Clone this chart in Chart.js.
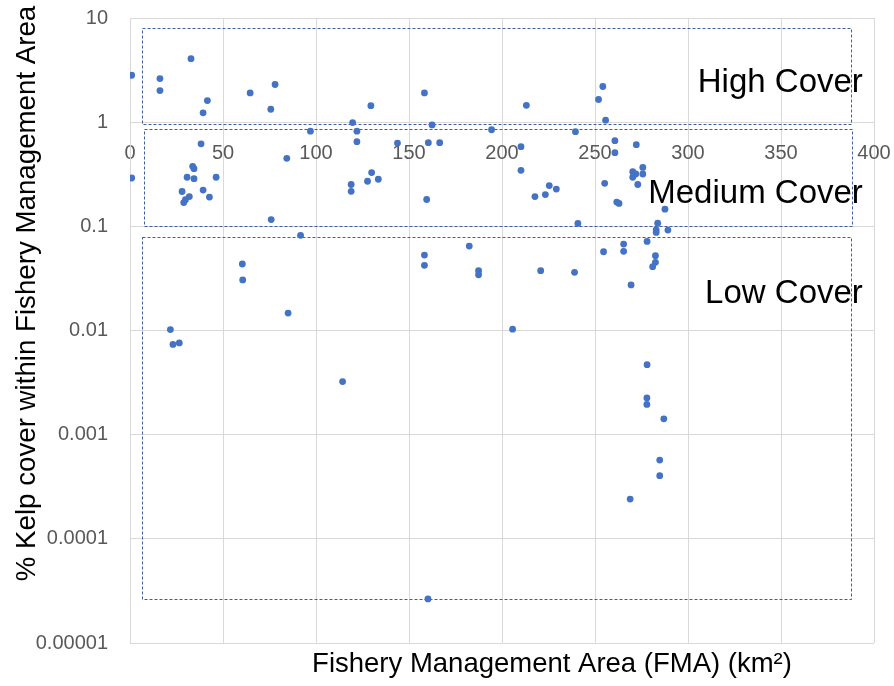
<!DOCTYPE html>
<html><head><meta charset="utf-8">
<script src="https://cdn.jsdelivr.net/npm/chart.js@4/dist/chart.umd.min.js"></script>
<style>html,body{margin:0;padding:0;background:#fff}</style>
</head><body>
<canvas id="c" width="894" height="686" style="display:block;width:894px;height:686px"></canvas>
<script>
// Fishery Management Area (km²) for each FMA
const fmaAreaKm2 = [
  0.9, 16.1, 16.1, 32.8, 41.6, 39.3, 64.6, 78.0, 75.7, 129.5,
  119.7, 122.0, 97.0, 122.0, 143.8, 38.2, 84.3, 0.9, 33.7, 34.4,
  30.7, 34.4, 46.3, 28.0, 39.3, 42.7, 31.9, 29.8, 28.9, 75.9,
  91.7, 60.4, 60.6, 118.9, 118.9, 129.9, 127.7, 133.5, 85.0, 21.7,
  23.1, 26.5, 114.3, 160.2, 187.4, 187.4, 205.7, 220.8, 158.3, 162.4,
  160.4, 166.5, 159.5, 158.3, 158.3, 182.4, 194.4, 213.1, 210.2, 210.2,
  217.7, 223.3, 225.4, 229.2, 239.0, 239.5, 240.8, 251.9, 254.2, 255.7,
  260.7, 260.7, 255.2, 261.7, 262.9, 272.2, 270.3, 271.9, 270.3, 275.7,
  275.7, 273.0, 287.6, 283.7, 282.9, 282.9, 289.2, 278.0, 254.6, 265.4,
  265.4, 282.5, 282.5, 281.0, 269.4, 278.0, 277.9, 277.9, 287.0, 284.8,
  284.8, 268.9
];
// % kelp cover within each FMA
const kelpCoverPct = [
  2.82, 2.62, 2.01, 4.07, 1.61, 1.23, 1.91, 2.30, 1.33, 1.44,
  0.99, 0.82, 0.82, 0.65, 0.63, 0.62, 0.45, 0.291, 0.377, 0.358,
  0.296, 0.287, 0.296, 0.216, 0.223, 0.191, 0.193, 0.180, 0.169, 0.116,
  0.082, 0.0435, 0.0306, 0.252, 0.217, 0.328, 0.271, 0.283, 0.0147, 0.0102,
  0.00735, 0.0076, 0.00323, 0.0000265, 0.0375, 0.0343, 0.0103, 0.0375, 1.91, 0.94,
  0.635, 0.635, 0.181, 0.053, 0.0422, 0.0646, 0.846, 1.45, 0.582, 0.345,
  0.193, 0.202, 0.246, 0.228, 0.0362, 0.81, 0.1066, 1.65, 2.20, 1.045,
  0.664, 0.51, 0.259, 0.171, 0.166, 0.608, 0.335, 0.318, 0.296, 0.368,
  0.318, 0.252, 0.146, 0.107, 0.0926, 0.0874, 0.092, 0.0717, 0.057, 0.0675,
  0.0575, 0.0522, 0.0451, 0.041, 0.0274, 0.0047, 0.00225, 0.00195, 0.00142, 0.00057,
  0.000404, 0.000241
];

const xTickValues = [0, 50, 100, 150, 200, 250, 300, 350, 400];
const yTickValues = [0.00001, 0.0001, 0.001, 0.01, 0.1, 1, 10];
const yTickLabels = ['0.00001', '0.0001', '0.001', '0.01', '0.1', '1', '10'];

// Cover classes (dashed boxes) in data units
const coverClasses   = ['High Cover', 'Medium Cover', 'Low Cover'];
const classAreaMin   = [6.5, 7.4, 6.5];
const classAreaMax   = [387.5, 388.4, 387.5];
const classCoverMin  = [0.95, 0.1005, 0.0000265];
const classCoverMax  = [8.1, 0.851, 0.0783];
const classLabelArea  = [394, 394, 394];
const classLabelCover = [1.95, 0.167, 0.0184];

const xAxisTitle = 'Fishery Management Area (FMA) (km²)';
const yAxisTitle = '% Kelp cover within Fishery Management Area';

const FONT = "'Liberation Sans', Arial, Helvetica, sans-serif";

const overlay = {
  id: 'overlay',
  beforeDatasetsDraw(chart) {
    const {ctx, scales: {x, y}} = chart;
    ctx.save();
    ctx.strokeStyle = '#3E5E9E';
    ctx.lineWidth = 1;
    ctx.setLineDash([3, 2]);
    for (let i = 0; i < coverClasses.length; i++) {
      const l = Math.round(x.getPixelForValue(classAreaMin[i])) + 0.5;
      const r = Math.round(x.getPixelForValue(classAreaMax[i])) + 0.5;
      const t = Math.round(y.getPixelForValue(classCoverMax[i])) + 0.5;
      const b = Math.round(y.getPixelForValue(classCoverMin[i])) + 0.5;
      ctx.strokeRect(l, t, r - l, b - t);
    }
    ctx.restore();
  },
  afterDatasetsDraw(chart) {
    const {ctx, scales: {x, y}} = chart;
    ctx.save();
    ctx.fillStyle = '#000';
    ctx.font = '33px ' + FONT;
    ctx.textAlign = 'right';
    ctx.textBaseline = 'alphabetic';
    for (let i = 0; i < coverClasses.length; i++) {
      ctx.fillText(coverClasses[i], x.getPixelForValue(classLabelArea[i]), y.getPixelForValue(classLabelCover[i]));
    }
    // x axis title
    ctx.font = '27.5px ' + FONT;
    ctx.textAlign = 'center';
    ctx.fillText(xAxisTitle, 552, 672);
    // y axis title
    ctx.font = '27.7px ' + FONT;
    ctx.translate(35, 293.5);
    ctx.rotate(-Math.PI / 2);
    ctx.fillText(yAxisTitle, 0, 0);
    ctx.restore();
  }
};

new Chart(document.getElementById('c'), {
  type: 'scatter',
  data: {
    datasets: [{
      data: fmaAreaKm2.map((v, i) => ({x: v, y: kelpCoverPct[i]})),
      backgroundColor: '#4472C4',
      borderWidth: 0,
      pointRadius: 3.4,
      pointHoverRadius: 3.4
    }]
  },
  options: {
    responsive: false,
    animation: false,
    devicePixelRatio: 1,
    layout: {padding: {top: 18, right: 20, bottom: 43, left: 0}},
    plugins: {legend: {display: false}, tooltip: {enabled: false}, title: {display: false}},
    scales: {
      x: {
        type: 'linear',
        position: {y: 1},
        min: 0, max: 400,
        afterBuildTicks: s => { s.ticks = xTickValues.map(v => ({value: v})); },
        ticks: {padding: 0, color: '#595959', font: {family: FONT, size: 20}, maxRotation: 0, autoSkip: false},
        grid: {color: '#d9d9d9', drawTicks: true, tickLength: 19, tickColor: 'rgba(0,0,0,0)', lineWidth: 1},
        border: {color: '#d9d9d9'}
      },
      y: {
        type: 'logarithmic',
        position: 'left',
        min: 0.00001, max: 10,
        afterBuildTicks: s => { s.ticks = yTickValues.map(v => ({value: v})); },
        afterFit: s => { s.width = 130; },
        ticks: {
          padding: 0, color: '#595959', font: {family: FONT, size: 20}, autoSkip: false,
          callback: (v) => {
            const i = yTickValues.findIndex(t => Math.abs(Math.log10(t) - Math.log10(v)) < 1e-6);
            return i >= 0 ? yTickLabels[i] : '';
          }
        },
        grid: {color: '#d9d9d9', drawTicks: true, tickLength: 22, tickColor: 'rgba(0,0,0,0)', lineWidth: 1},
        border: {color: '#d9d9d9'}
      }
    }
  },
  plugins: [overlay]
});
</script>
</body></html>
